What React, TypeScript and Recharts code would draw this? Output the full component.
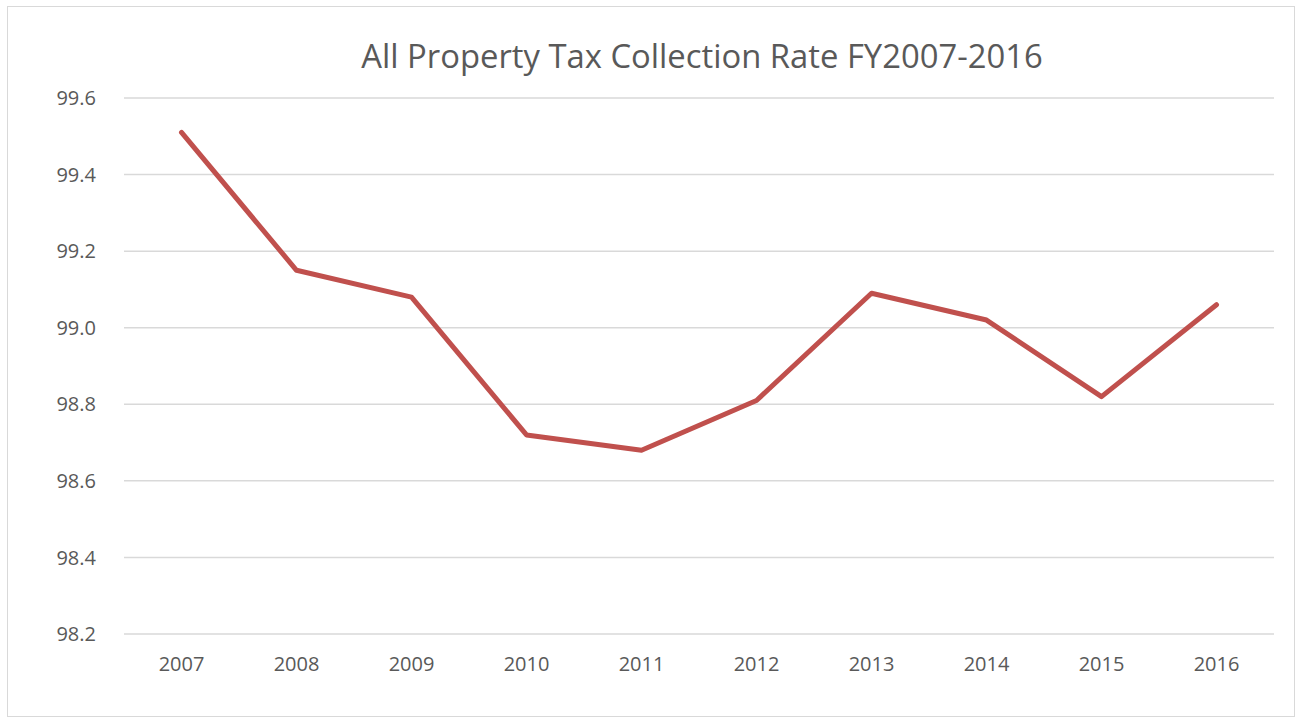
import React from "react";
import { LineChart, Line, XAxis, YAxis, CartesianGrid } from "recharts";

const years = ["2007", "2008", "2009", "2010", "2011", "2012", "2013", "2014", "2015", "2016"];
const rates = [99.51, 99.15, 99.08, 98.72, 98.68, 98.81, 99.09, 99.02, 98.82, 99.06];
const yTicks = [98.2, 98.4, 98.6, 98.8, 99.0, 99.2, 99.4, 99.6];
const title = "All Property Tax Collection Rate FY2007-2016";

const data = years.map((year, i) => ({ year, rate: rates[i] }));

const FONT = "'Open Sans', sans-serif";
const TEXT = "#595959";

export default function App() {
  return (
    <div style={{ position: "absolute", left: 0, top: 0, width: 1297, height: 720, background: "#fff", fontFamily: FONT }}>
      <div style={{ position: "absolute", left: 7, top: 6, width: 1288, height: 711, border: "1px solid #d9d9d9", boxSizing: "border-box" }} />
      <div style={{ position: "absolute", left: 0, top: 34, width: 1404, textAlign: "center", fontSize: 32.8, color: TEXT, lineHeight: "44px", whiteSpace: "nowrap" }}>
        {title}
      </div>
      <div style={{ position: "absolute", left: 0, top: 0 }}>
        <LineChart width={1297} height={720} data={data} margin={{ top: 98, right: 23, bottom: 46, left: 64 }}>
          <CartesianGrid vertical={false} stroke="#d9d9d9" strokeWidth={1.5} />
          <XAxis
            dataKey="year"
            scale="band"
            height={40}
            axisLine={false}
            tickLine={false}
            tickMargin={17}
            tick={{ fill: TEXT, fontSize: 20, fontFamily: FONT }}
          />
          <YAxis
            width={60}
            domain={[98.2, 99.6]}
            ticks={yTicks}
            tickFormatter={(v: number) => v.toFixed(1)}
            axisLine={false}
            tickLine={false}
            tickMargin={22}
            tick={{ fill: TEXT, fontSize: 20, fontFamily: FONT }}
          />
          <Line
            type="linear"
            dataKey="rate"
            stroke="#C0504D"
            strokeWidth={5}
            dot={false}
            activeDot={false}
            strokeLinecap="round"
            strokeLinejoin="round"
            isAnimationActive={false}
          />
        </LineChart>
      </div>
    </div>
  );
}
